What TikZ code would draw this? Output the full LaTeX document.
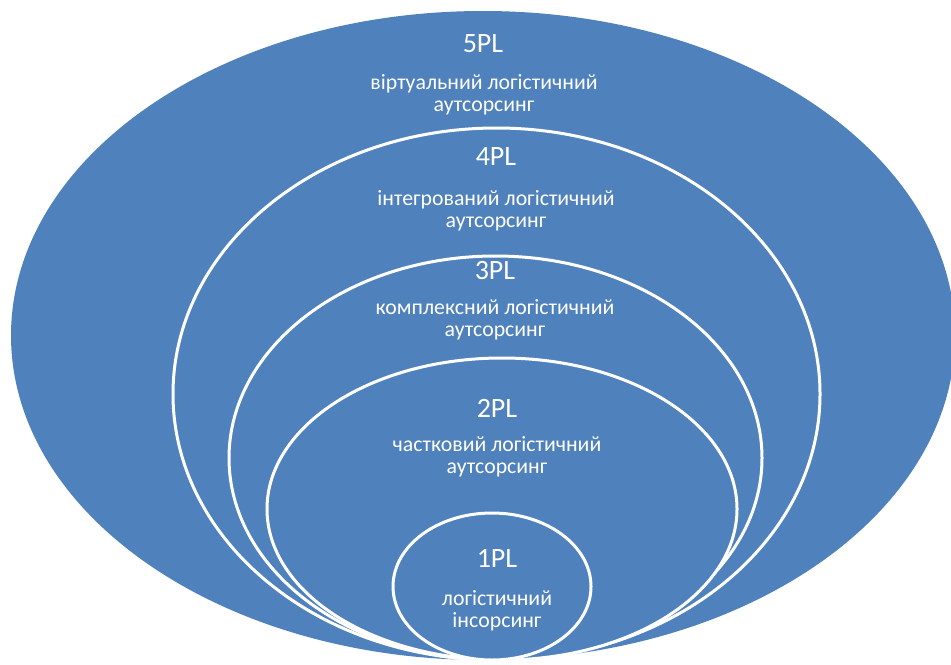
\documentclass[tikz,border=0pt]{standalone}
\usepackage{fontspec}
\setmainfont{Carlito}
\usetikzlibrary{shapes.geometric}
\definecolor{ringblue}{RGB}{79,129,189}

\begin{document}
\begin{tikzpicture}[x=0.5pt, y=-0.5pt,
  ring/.style={ellipse, draw=white, line width=1.5pt, fill=ringblue, inner sep=0pt},
  title/.style={text=white, font=\fontsize{14}{16}\selectfont},
  desc/.style={text=white, align=center, font=\fontsize{10.9}{11}\selectfont}]
  \useasboundingbox (0,0) rectangle (951,664);
  \clip (0,0) rectangle (951,664);
  % nested rings, all touching at the bottom
  \node (e5) [ring, draw=none, minimum width=472pt, minimum height=324.5pt] at (483,335.5) {};
  \node (e4) [ring, minimum width=323.5pt, minimum height=266pt] at (496.5,394) {};
  \node (e3) [ring, minimum width=266.5pt, minimum height=202pt] at (495.5,458) {};
  \node (e2) [ring, minimum width=235pt, minimum height=151pt] at (502,509) {};
  \node (e1) [ring, minimum width=99pt, minimum height=73.5pt] at (492,586.5) {};
  % labels
  \node (t5) [title] at (483,44) {5PL};
  \node (d5) [desc] at (484,95) {віртуальний логістичний\\аутсорсинг};
  \node (t4) [title] at (496,157) {4PL};
  \node (d4) [desc] at (496,210.5) {інтегрований логістичний\\аутсорсинг};
  \node (t3) [title] at (495,271) {3PL};
  \node (d3) [desc] at (495,320) {комплексний логістичний\\аутсорсинг};
  \node (t2) [title] at (497,408) {2PL};
  \node (d2) [desc] at (497,457) {частковий логістичний\\аутсорсинг};
  \node (t1) [title] at (497,558) {1PL};
  \node (d1) [desc] at (497,610.5) {логістичний\\інсорсинг};
\end{tikzpicture}
\end{document}
